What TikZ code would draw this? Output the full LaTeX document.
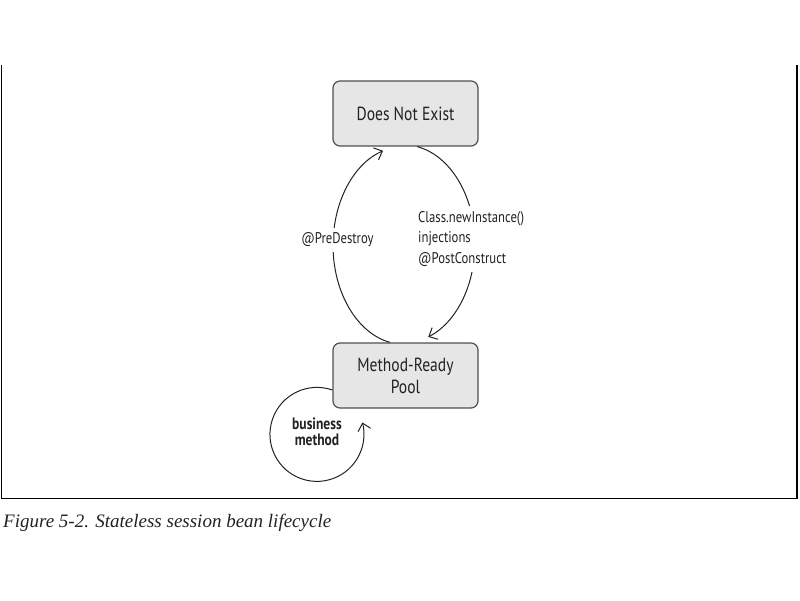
\documentclass[tikz,border=0pt]{standalone}
\usepackage{fontspec}
\setsansfont{PT Sans}[FakeStretch=0.82]
\newfontfamily\capfont{Liberation Serif}
\usetikzlibrary{arrows.meta}
\definecolor{boxfill}{HTML}{E6E6E6}
\definecolor{boxline}{HTML}{505050}
\definecolor{ink}{HTML}{222222}
\tikzset{
  statebox/.style={draw=boxline, line width=1.2pt, fill=boxfill, rounded corners=7pt,
    minimum width=145pt, minimum height=65pt, font=\sffamily\fontsize{19}{22}\selectfont,
    text=ink, align=center, inner sep=0pt},
  trans/.style={draw=ink, line width=1pt, -{Straight Barb[length=7pt,width=13pt,line width=1pt]}},
  lbl/.style={fill=white, font=\sffamily\fontsize{15.5}{20.5}\selectfont, text=ink, inner xsep=2pt, inner ysep=5pt},
  frameline/.style={draw=black, line width=1.5pt}
}
\begin{document}
\begin{tikzpicture}[x=1pt,y=-1pt]
\useasboundingbox (0,0) rectangle (800,600);
% frame
\coordinate (ftl) at (1.5,65);
\coordinate (fbl) at (1.5,498.5);
\coordinate (fbr) at (797,498.5);
\coordinate (ftr) at (797,65);
\draw[frameline] (ftl) -- (fbl) -- (fbr) -- (ftr);
% states
\node[statebox] (dne) at (405.5,113.5) {Does Not Exist};
\node[statebox] (mrp) at (405.5,375.5) {Method-Ready\\Pool};
% ellipse transitions
\draw[trans] (mrp.north) ++(-15.5,0) arc[start angle=101.4, end angle=252.8, x radius=71, y radius=99];
\draw[trans] (dne.south) ++(11.5,0) arc[start angle=-79.4, end angle=70, x radius=71, y radius=99];
% labels
\node[lbl] (pd) at (337.5,240) {@PreDestroy};
\node[lbl, align=left, anchor=west] (pc) at (416,239) {Class.newInstance()\\injections\\@PostConstruct};
% business method loop
\draw[trans] (mrp.west) ++(0,14.5) arc[start angle=-70.8, end angle=-374.7, radius=47];
\node[font=\sffamily\bfseries\fontsize{16.5}{16}\selectfont, text=ink, align=center] (bm) at (317,432) {business\\method};
% caption
\node[anchor=base west, inner sep=0pt, font=\capfont\itshape\fontsize{19}{22}\selectfont, text=ink] (cap) at (3,527) {Figure 5-2. Stateless session bean lifecycle};
\end{tikzpicture}
\end{document}
